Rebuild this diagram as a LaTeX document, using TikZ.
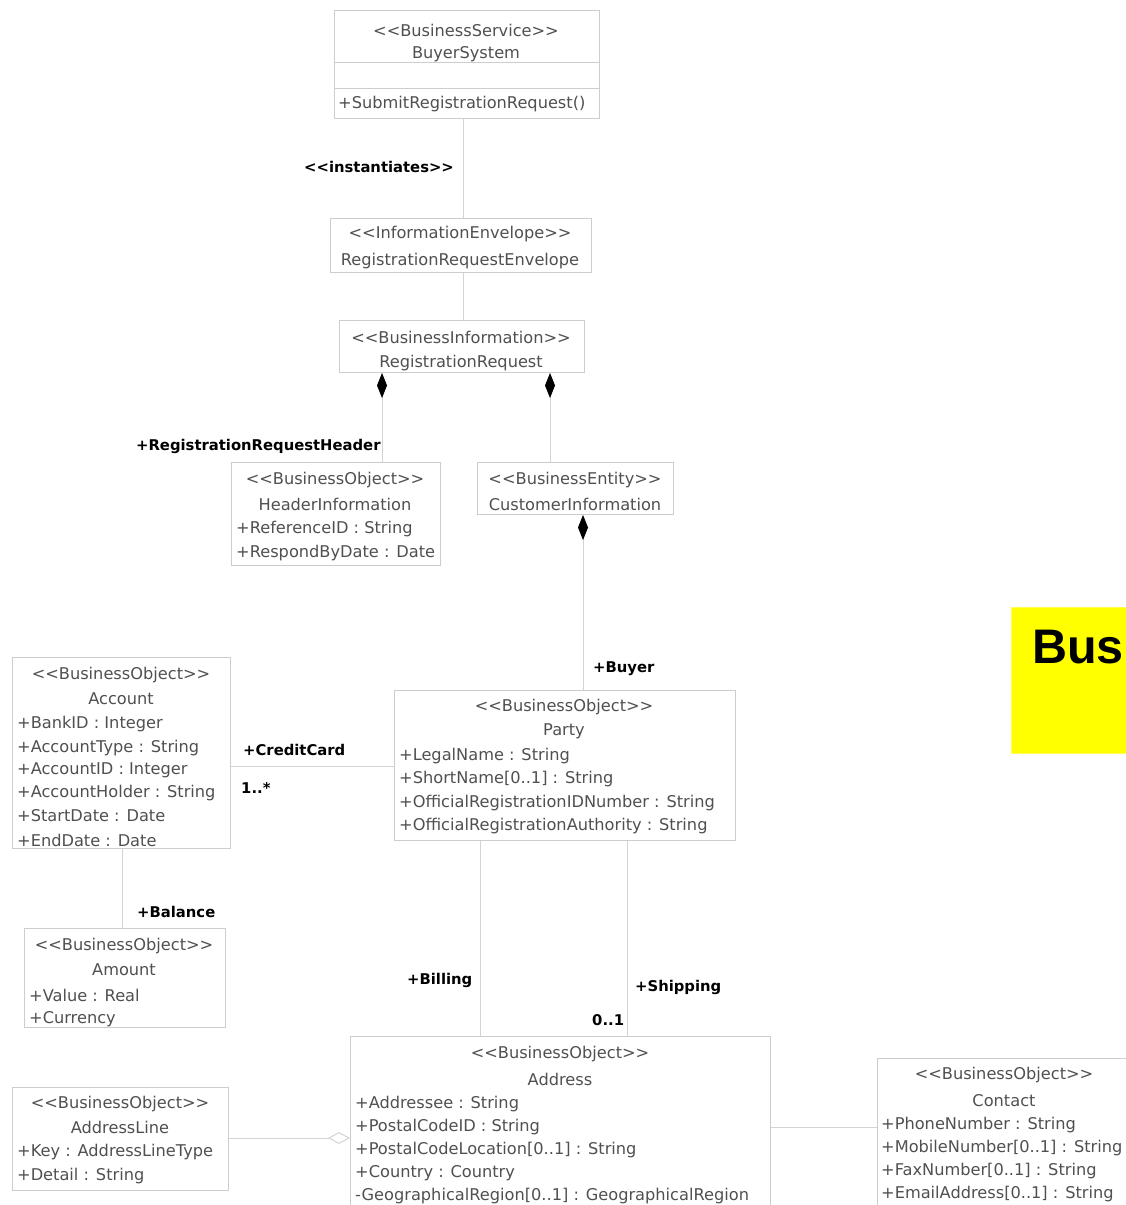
\documentclass[tikz,border=0pt]{standalone}
\usepackage{fontspec}
\setmainfont{DejaVu Sans}
\newfontfamily\arialfont{Liberation Sans}
\usetikzlibrary{arrows.meta}
\definecolor{boxline}{RGB}{205,205,205}
\definecolor{connline}{RGB}{212,212,212}
\definecolor{txtgray}{RGB}{80,80,80}
\definecolor{hiyellow}{RGB}{255,255,0}
\newcommand\stereo[1]{<{}<#1>{}>}
\tikzset{
  umlbox/.style={draw=boxline, line width=1pt, inner sep=0pt, anchor=north west},
  ctext/.style={text=txtgray, inner sep=0pt, font=\fontsize{16.2}{19}\selectfont},
  ltext/.style={ctext, anchor=west},
  rolelabel/.style={text=black, inner sep=0pt, anchor=west, font=\fontsize{14.8}{18}\selectfont\bfseries},
  conn/.style={draw=connline, line width=1pt},
  compo/.style={conn, {Diamond[length=25pt,width=10pt,color=black,fill=black]}-},
  aggr/.style={conn, -{Diamond[open,length=22pt,width=12pt]}},
}
\newcommand\ubox[5]{\node[umlbox, minimum width={#4-#2}, minimum height={#5-#3}] (#1) at (#2,#3) {};}
\begin{document}
\begin{tikzpicture}[x=1pt,y=-1pt]
\useasboundingbox (0,0) rectangle (1126,1205);
\clip (0,0) rectangle (1126,1205);
\fill[white] (0,0) rectangle (1126,1205);

% boxes
\ubox{buyer}{334}{10}{599}{118}
\ubox{env}{330}{218}{591}{272}
\ubox{reg}{339}{320}{584}{372}
\ubox{hdr}{231}{462}{440}{565}
\ubox{cust}{477}{462}{673}{514}
\ubox{party}{394}{690}{735}{840}
\ubox{acct}{12}{657}{230}{848}
\ubox{amount}{24}{928}{225}{1027}
\ubox{address}{350}{1036}{770}{1220}
\ubox{addrline}{12}{1087}{228}{1190}
\ubox{contact}{877}{1058}{1140}{1220}
\draw[boxline, line width=1pt] (buyer.west |- 0,62) -- (buyer.east |- 0,62);
\draw[boxline, line width=1pt] (buyer.west |- 0,88) -- (buyer.east |- 0,88);

% yellow title
\node[draw=hiyellow!70!white, fill=hiyellow, anchor=north west, minimum width=140pt, minimum height=146pt, inner sep=0pt] (title) at (1011,607) {};
\node[anchor=west, inner sep=0pt, font=\arialfont\fontsize{48.5}{54}\selectfont\bfseries, text=black] (titletext) at (1032,647) {Bus};

% coordinates for connector columns
\coordinate (c382) at (382,0);
\coordinate (c550) at (550,0);
\coordinate (c583) at (583,0);
\coordinate (c480) at (480,0);
\coordinate (c627) at (627,0);
\coordinate (c122) at (122,0);
\coordinate (c463) at (463,0);
\coordinate (r766) at (0,766);
\coordinate (r1138) at (0,1138);
\coordinate (r1127) at (0,1127);

% connectors
\draw[conn] (buyer.south -| c463) -- (env.north -| c463);
\draw[conn] (env.south -| c463) -- (reg.north -| c463);
\draw[compo] (reg.south -| c382) -- (hdr.north -| c382);
\draw[compo] (reg.south -| c550) -- (cust.north -| c550);
\draw[compo] (cust.south -| c583) -- (party.north -| c583);
\draw[conn] (acct.east |- r766) -- (party.west |- r766);
\draw[conn] (acct.south -| c122) -- (amount.north -| c122);
\draw[conn] (party.south -| c480) -- (address.north -| c480);
\draw[conn] (party.south -| c627) -- (address.north -| c627);
\draw[aggr] (addrline.east |- r1138) -- (address.west |- r1138);
\draw[conn] (address.east |- r1127) -- (contact.west |- r1127);

% role labels
\node[rolelabel] (linst) at (304,167) {\stereo{instantiates}};
\node[rolelabel] (lhdr) at (136,446) {+RegistrationRequestHeader};
\node[rolelabel] (lbuyer) at (593,669) {+Buyer};
\node[rolelabel] (lcc) at (243,750) {+CreditCard};
\node[rolelabel] (lccm) at (241,788) {1..*};
\node[rolelabel] (lbal) at (137,912) {+Balance};
\node[rolelabel] (lbill) at (407,980) {+Billing};
\node[rolelabel] (lship) at (635,987) {+Shipping};
\node[rolelabel] (lshipm) at (592,1020) {0..1};

% BuyerSystem
\node[ctext] (b1) at (466,30) {\stereo{BusinessService}};
\node[ctext] (b2) at (466,54) {BuyerSystem};
\node[ltext] (b3) at (338,104) {+SubmitRegistrationRequest()};
% Envelope
\node[ctext] (e1) at (460,234) {\stereo{InformationEnvelope}};
\node[ctext] (e2) at (460,261) {RegistrationRequestEnvelope};
% RegistrationRequest
\node[ctext] (r1) at (461,337) {\stereo{BusinessInformation}};
\node[ctext] (r2) at (461,363) {RegistrationRequest};
% HeaderInformation
\node[ctext] (h1) at (335,480) {\stereo{BusinessObject}};
\node[ctext] (h2) at (335,504) {HeaderInformation};
\node[ltext] (h3) at (236,529) {+ReferenceID : String};
\node[ltext] (h4) at (236,553) {+RespondByDate : Date};
% CustomerInformation
\node[ctext] (ci1) at (575,480) {\stereo{BusinessEntity}};
\node[ctext] (ci2) at (575,504) {CustomerInformation};
% Party
\node[ctext] (p1) at (564,707) {\stereo{BusinessObject}};
\node[ctext] (p2) at (564,731) {Party};
\node[ltext] (p3) at (399,756) {+LegalName : String};
\node[ltext] (p4) at (399,779) {+ShortName[0..1] : String};
\node[ltext] (p5) at (399,803) {+OfficialRegistrationIDNumber : String};
\node[ltext] (p6) at (399,826) {+OfficialRegistrationAuthority : String};
% Account
\node[ctext] (a1) at (121,675) {\stereo{BusinessObject}};
\node[ctext] (a2) at (121,699) {Account};
\node[ltext] (a3) at (17,724) {+BankID : Integer};
\node[ltext] (a4) at (17,748) {+AccountType : String};
\node[ltext] (a5) at (17,770) {+AccountID : Integer};
\node[ltext] (a6) at (17,793) {+AccountHolder : String};
\node[ltext] (a7) at (17,816) {+StartDate : Date};
\node[ltext] (a8) at (17,840) {+EndDate : Date};
% Amount
\node[ctext] (m1) at (124,946) {\stereo{BusinessObject}};
\node[ctext] (m2) at (124,970) {Amount};
\node[ltext] (m3) at (29,995) {+Value : Real};
\node[ltext] (m4) at (29,1019) {+Currency};
% Address
\node[ctext] (ad1) at (560,1054) {\stereo{BusinessObject}};
\node[ctext] (ad2) at (560,1079) {Address};
\node[ltext] (ad3) at (355,1104) {+Addressee : String};
\node[ltext] (ad4) at (355,1127) {+PostalCodeID : String};
\node[ltext] (ad5) at (355,1150) {+PostalCodeLocation[0..1] : String};
\node[ltext] (ad6) at (355,1173) {+Country : Country};
\node[ltext] (ad7) at (355,1196) {-GeographicalRegion[0..1] : GeographicalRegion};
% AddressLine
\node[ctext] (al1) at (120,1104) {\stereo{BusinessObject}};
\node[ctext] (al2) at (120,1127) {AddressLine};
\node[ltext] (al3) at (17,1152) {+Key : AddressLineType};
\node[ltext] (al4) at (17,1176) {+Detail : String};
% Contact
\node[ctext] (co1) at (1004,1075) {\stereo{BusinessObject}};
\node[ctext] (co2) at (1004,1101) {Contact};
\node[ltext] (co3) at (881,1125) {+PhoneNumber : String};
\node[ltext] (co4) at (881,1148) {+MobileNumber[0..1] : String};
\node[ltext] (co5) at (881,1171) {+FaxNumber[0..1] : String};
\node[ltext] (co6) at (881,1194) {+EmailAddress[0..1] : String};
\end{tikzpicture}
\end{document}
